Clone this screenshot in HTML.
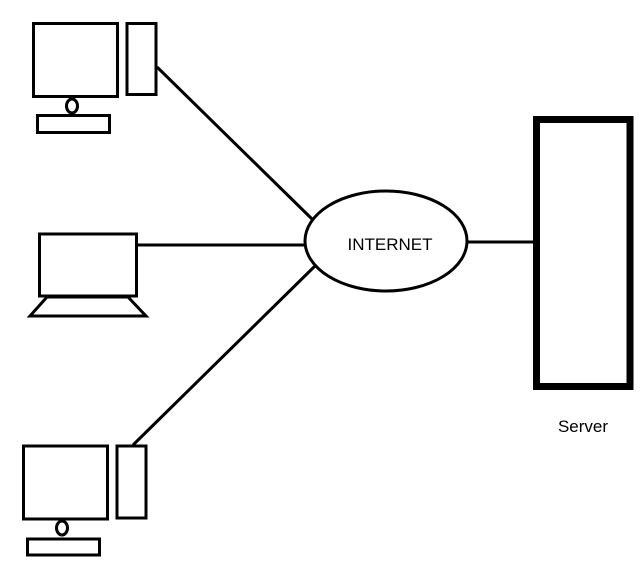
<!DOCTYPE html>
<html><head><style>html,body{margin:0;padding:0;background:#fff;}</style></head>
<body>
<svg width="641" height="561" viewBox="0 0 641 561" xmlns="http://www.w3.org/2000/svg">
<g fill="none" stroke="#000" stroke-width="3">
<rect x="33.5" y="23.5" width="84" height="73"/>
<rect x="127" y="23.5" width="29" height="71"/>
<ellipse cx="72" cy="106" rx="5.5" ry="7"/>
<rect x="37.5" y="115.5" width="72" height="17"/>
<line x1="157" y1="67" x2="312" y2="219"/>
<rect x="39.5" y="234" width="97" height="62"/>
<polygon points="47,297 128,297 146,316 30,316"/>
<line x1="137" y1="245" x2="305" y2="245"/>
<rect x="23.5" y="446" width="84" height="73"/>
<rect x="117" y="446" width="29" height="72"/>
<ellipse cx="62" cy="528" rx="5.5" ry="7"/>
<rect x="27.5" y="539" width="72" height="16"/>
<line x1="133" y1="445" x2="316" y2="265"/>
<ellipse cx="386" cy="241" rx="81" ry="50" fill="#fff"/>
<line x1="467" y1="242" x2="536" y2="242"/>
<rect x="536.5" y="119.5" width="93.5" height="267" stroke-width="7"/>
</g>
<text x="390" y="250" font-family="Liberation Sans, sans-serif" font-size="17" text-anchor="middle">INTERNET</text>
<text x="583" y="432" font-family="Liberation Sans, sans-serif" font-size="17" text-anchor="middle">Server</text>
</svg>
</body></html>
